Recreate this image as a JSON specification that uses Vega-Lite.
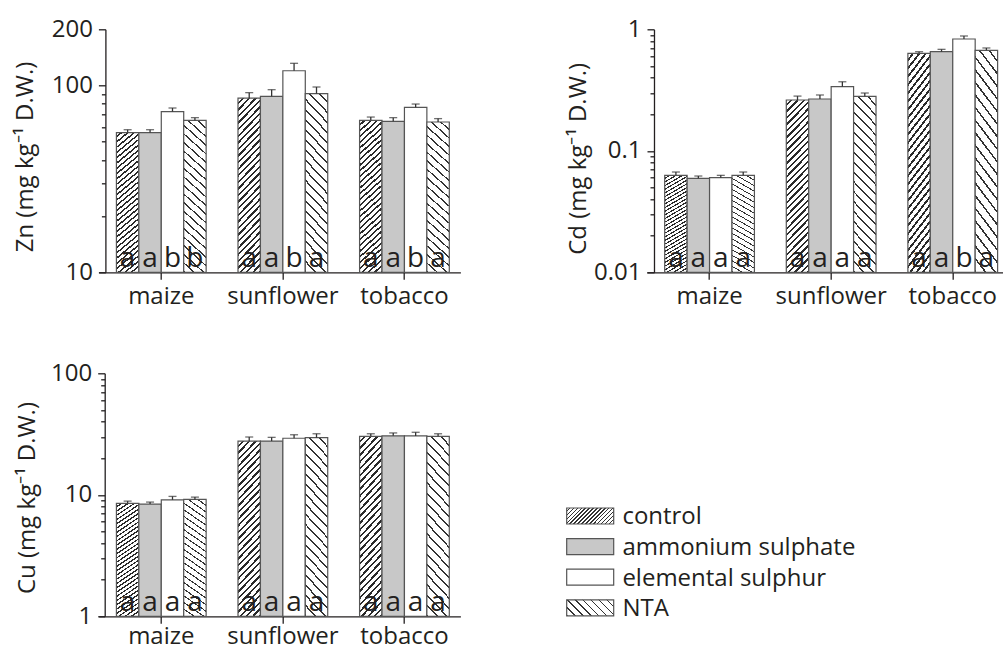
{
"$schema": "https://vega.github.io/schema/vega-lite/v6.json",
"padding": {"left": 12.7, "top": 17.3, "right": 0, "bottom": 2},
"background": "#ffffff",
"datasets": {
"main": [
{"metal":"Zn","crop":"maize","treatment":"control","value":56,"upper":58,"letter":"a"},
{"metal":"Zn","crop":"maize","treatment":"ammonium sulphate","value":56,"upper":58,"letter":"a"},
{"metal":"Zn","crop":"maize","treatment":"elemental sulphur","value":72.5,"upper":75.8,"letter":"b"},
{"metal":"Zn","crop":"maize","treatment":"NTA","value":65,"upper":67.3,"letter":"b"},
{"metal":"Zn","crop":"sunflower","treatment":"control","value":85.7,"upper":91.6,"letter":"a"},
{"metal":"Zn","crop":"sunflower","treatment":"ammonium sulphate","value":87.5,"upper":95,"letter":"a"},
{"metal":"Zn","crop":"sunflower","treatment":"elemental sulphur","value":120,"upper":131.5,"letter":"b"},
{"metal":"Zn","crop":"sunflower","treatment":"NTA","value":90.5,"upper":98.2,"letter":"a"},
{"metal":"Zn","crop":"tobacco","treatment":"control","value":65,"upper":67.8,"letter":"a"},
{"metal":"Zn","crop":"tobacco","treatment":"ammonium sulphate","value":64.3,"upper":67.3,"letter":"a"},
{"metal":"Zn","crop":"tobacco","treatment":"elemental sulphur","value":76.4,"upper":79.6,"letter":"b"},
{"metal":"Zn","crop":"tobacco","treatment":"NTA","value":63.8,"upper":66.5,"letter":"a"},
{"metal":"Cd","crop":"maize","treatment":"control","value":0.0628,"upper":0.0669,"letter":"a"},
{"metal":"Cd","crop":"maize","treatment":"ammonium sulphate","value":0.0594,"upper":0.062,"letter":"a"},
{"metal":"Cd","crop":"maize","treatment":"elemental sulphur","value":0.0601,"upper":0.0628,"letter":"a"},
{"metal":"Cd","crop":"maize","treatment":"NTA","value":0.0628,"upper":0.0669,"letter":"a"},
{"metal":"Cd","crop":"sunflower","treatment":"control","value":0.262,"upper":0.282,"letter":"a"},
{"metal":"Cd","crop":"sunflower","treatment":"ammonium sulphate","value":0.267,"upper":0.288,"letter":"a"},
{"metal":"Cd","crop":"sunflower","treatment":"elemental sulphur","value":0.337,"upper":0.37,"letter":"a"},
{"metal":"Cd","crop":"sunflower","treatment":"NTA","value":0.281,"upper":0.299,"letter":"a"},
{"metal":"Cd","crop":"tobacco","treatment":"control","value":0.634,"upper":0.654,"letter":"a"},
{"metal":"Cd","crop":"tobacco","treatment":"ammonium sulphate","value":0.654,"upper":0.684,"letter":"a"},
{"metal":"Cd","crop":"tobacco","treatment":"elemental sulphur","value":0.832,"upper":0.881,"letter":"b"},
{"metal":"Cd","crop":"tobacco","treatment":"NTA","value":0.672,"upper":0.702,"letter":"a"},
{"metal":"Cu","crop":"maize","treatment":"control","value":8.49,"upper":8.87,"letter":"a"},
{"metal":"Cu","crop":"maize","treatment":"ammonium sulphate","value":8.38,"upper":8.71,"letter":"a"},
{"metal":"Cu","crop":"maize","treatment":"elemental sulphur","value":9.09,"upper":9.7,"letter":"a"},
{"metal":"Cu","crop":"maize","treatment":"NTA","value":9.16,"upper":9.57,"letter":"a"},
{"metal":"Cu","crop":"sunflower","treatment":"control","value":27.7,"upper":29.9,"letter":"a"},
{"metal":"Cu","crop":"sunflower","treatment":"ammonium sulphate","value":27.7,"upper":29.7,"letter":"a"},
{"metal":"Cu","crop":"sunflower","treatment":"elemental sulphur","value":29.2,"upper":31.2,"letter":"a"},
{"metal":"Cu","crop":"sunflower","treatment":"NTA","value":29.5,"upper":31.8,"letter":"a"},
{"metal":"Cu","crop":"tobacco","treatment":"control","value":30.3,"upper":31.8,"letter":"a"},
{"metal":"Cu","crop":"tobacco","treatment":"ammonium sulphate","value":30.6,"upper":32.3,"letter":"a"},
{"metal":"Cu","crop":"tobacco","treatment":"elemental sulphur","value":30.5,"upper":32.7,"letter":"a"},
{"metal":"Cu","crop":"tobacco","treatment":"NTA","value":30.3,"upper":31.8,"letter":"a"}
],
"legend": [
{"treatment":"control"},
{"treatment":"ammonium sulphate"},
{"treatment":"elemental sulphur"},
{"treatment":"NTA"}
]
},
"columns": 2,
"spacing": {"row": 101, "column": 186},
"bounds": "flush",
"concat": [
{
"width": 361.7, "height": 243,
"data": {"name": "main"},
"transform": [{"filter": "datum.metal === 'Zn'"}],
"encoding": {
"x": {"field": "crop", "type": "nominal", "scale": {"domain": ["maize","sunflower","tobacco"], "paddingInner": 0.262, "paddingOuter": 0.1185, "align": 0.615}, "axis": {"title": null, "labelAngle": 0, "tickSize": 7, "labelPadding": 5}},
"xOffset": {"field": "treatment", "type": "nominal", "scale": {"domain": ["control","ammonium sulphate","elemental sulphur","NTA"], "paddingInner": 0, "paddingOuter": 0}},
"y": {"field": "value", "type": "quantitative", "scale": {"type": "log", "domain": [10, 200]}, "axis": {"title": "Zn (mg kg⁻¹ D.W.)", "values": [10,20,30,40,50,60,70,80,90,100,200], "labelExpr": "indexof([10,100,200], datum.value) >= 0 ? datum.value : ''", "tickSize": {"condition": {"test": "indexof([10,100,200], datum.value) >= 0", "value": 7}, "value": 4}, "offset": -6.7, "minExtent": 55, "maxExtent": 55, "titlePadding": 13.3, "titleY": 127.2, "labelOverlap": false, "labelPadding": 6}}
},
"layer": [
{"transform": [{"filter": "datum.treatment === 'control'"}], "mark": {"type": "bar", "stroke": "#555555", "strokeWidth": 1.2, "fill": {"gradient":"linear","x1":0,"y1":0,"x2":0.1485,"y2":1.1135,"stops":[
{"offset":0,"color":"#fff"},{"offset":0.0213,"color":"#fff"},{"offset":0.0213,"color":"#2a2a2a"},{"offset":0.0333,"color":"#2a2a2a"},
{"offset":0.0333,"color":"#fff"},{"offset":0.0546,"color":"#fff"},{"offset":0.0546,"color":"#2a2a2a"},{"offset":0.0667,"color":"#2a2a2a"},
{"offset":0.0667,"color":"#fff"},{"offset":0.088,"color":"#fff"},{"offset":0.088,"color":"#2a2a2a"},{"offset":0.1,"color":"#2a2a2a"},
{"offset":0.1,"color":"#fff"},{"offset":0.1213,"color":"#fff"},{"offset":0.1213,"color":"#2a2a2a"},{"offset":0.1333,"color":"#2a2a2a"},
{"offset":0.1333,"color":"#fff"},{"offset":0.1546,"color":"#fff"},{"offset":0.1546,"color":"#2a2a2a"},{"offset":0.1667,"color":"#2a2a2a"},
{"offset":0.1667,"color":"#fff"},{"offset":0.188,"color":"#fff"},{"offset":0.188,"color":"#2a2a2a"},{"offset":0.2,"color":"#2a2a2a"},
{"offset":0.2,"color":"#fff"},{"offset":0.2213,"color":"#fff"},{"offset":0.2213,"color":"#2a2a2a"},{"offset":0.2333,"color":"#2a2a2a"},
{"offset":0.2333,"color":"#fff"},{"offset":0.2546,"color":"#fff"},{"offset":0.2546,"color":"#2a2a2a"},{"offset":0.2667,"color":"#2a2a2a"},
{"offset":0.2667,"color":"#fff"},{"offset":0.288,"color":"#fff"},{"offset":0.288,"color":"#2a2a2a"},{"offset":0.3,"color":"#2a2a2a"},
{"offset":0.3,"color":"#fff"},{"offset":0.3213,"color":"#fff"},{"offset":0.3213,"color":"#2a2a2a"},{"offset":0.3333,"color":"#2a2a2a"},
{"offset":0.3333,"color":"#fff"},{"offset":0.3546,"color":"#fff"},{"offset":0.3546,"color":"#2a2a2a"},{"offset":0.3667,"color":"#2a2a2a"},
{"offset":0.3667,"color":"#fff"},{"offset":0.388,"color":"#fff"},{"offset":0.388,"color":"#2a2a2a"},{"offset":0.4,"color":"#2a2a2a"},
{"offset":0.4,"color":"#fff"},{"offset":0.4213,"color":"#fff"},{"offset":0.4213,"color":"#2a2a2a"},{"offset":0.4333,"color":"#2a2a2a"},
{"offset":0.4333,"color":"#fff"},{"offset":0.4546,"color":"#fff"},{"offset":0.4546,"color":"#2a2a2a"},{"offset":0.4667,"color":"#2a2a2a"},
{"offset":0.4667,"color":"#fff"},{"offset":0.488,"color":"#fff"},{"offset":0.488,"color":"#2a2a2a"},{"offset":0.5,"color":"#2a2a2a"},
{"offset":0.5,"color":"#fff"},{"offset":0.5213,"color":"#fff"},{"offset":0.5213,"color":"#2a2a2a"},{"offset":0.5333,"color":"#2a2a2a"},
{"offset":0.5333,"color":"#fff"},{"offset":0.5546,"color":"#fff"},{"offset":0.5546,"color":"#2a2a2a"},{"offset":0.5667,"color":"#2a2a2a"},
{"offset":0.5667,"color":"#fff"},{"offset":0.588,"color":"#fff"},{"offset":0.588,"color":"#2a2a2a"},{"offset":0.6,"color":"#2a2a2a"},
{"offset":0.6,"color":"#fff"},{"offset":0.6213,"color":"#fff"},{"offset":0.6213,"color":"#2a2a2a"},{"offset":0.6333,"color":"#2a2a2a"},
{"offset":0.6333,"color":"#fff"},{"offset":0.6546,"color":"#fff"},{"offset":0.6546,"color":"#2a2a2a"},{"offset":0.6667,"color":"#2a2a2a"},
{"offset":0.6667,"color":"#fff"},{"offset":0.688,"color":"#fff"},{"offset":0.688,"color":"#2a2a2a"},{"offset":0.7,"color":"#2a2a2a"},
{"offset":0.7,"color":"#fff"},{"offset":0.7213,"color":"#fff"},{"offset":0.7213,"color":"#2a2a2a"},{"offset":0.7333,"color":"#2a2a2a"},
{"offset":0.7333,"color":"#fff"},{"offset":0.7546,"color":"#fff"},{"offset":0.7546,"color":"#2a2a2a"},{"offset":0.7667,"color":"#2a2a2a"},
{"offset":0.7667,"color":"#fff"},{"offset":0.788,"color":"#fff"},{"offset":0.788,"color":"#2a2a2a"},{"offset":0.8,"color":"#2a2a2a"},
{"offset":0.8,"color":"#fff"},{"offset":0.8213,"color":"#fff"},{"offset":0.8213,"color":"#2a2a2a"},{"offset":0.8333,"color":"#2a2a2a"},
{"offset":0.8333,"color":"#fff"},{"offset":0.8546,"color":"#fff"},{"offset":0.8546,"color":"#2a2a2a"},{"offset":0.8667,"color":"#2a2a2a"},
{"offset":0.8667,"color":"#fff"},{"offset":0.888,"color":"#fff"},{"offset":0.888,"color":"#2a2a2a"},{"offset":0.9,"color":"#2a2a2a"},
{"offset":0.9,"color":"#fff"},{"offset":0.9213,"color":"#fff"},{"offset":0.9213,"color":"#2a2a2a"},{"offset":0.9333,"color":"#2a2a2a"},
{"offset":0.9333,"color":"#fff"},{"offset":0.9546,"color":"#fff"},{"offset":0.9546,"color":"#2a2a2a"},{"offset":0.9667,"color":"#2a2a2a"},
{"offset":0.9667,"color":"#fff"},{"offset":0.988,"color":"#fff"},{"offset":0.988,"color":"#2a2a2a"},{"offset":1,"color":"#2a2a2a"}
]}}, "encoding": {"y2": {"datum": 10}}},
{"transform": [{"filter": "datum.treatment === 'ammonium sulphate'"}], "mark": {"type": "bar", "fill": "#c8c8c8", "stroke": "#555555", "strokeWidth": 1.2}, "encoding": {"y2": {"datum": 10}}},
{"transform": [{"filter": "datum.treatment === 'elemental sulphur'"}], "mark": {"type": "bar", "fill": "#ffffff", "stroke": "#555555", "strokeWidth": 1.2}, "encoding": {"y2": {"datum": 10}}},
{"transform": [{"filter": "datum.treatment === 'NTA'"}], "mark": {"type": "bar", "stroke": "#555555", "strokeWidth": 1.2, "fill": {"gradient":"linear","x1":1,"y1":0,"x2":0.8515,"y2":1.1135,"stops":[
{"offset":0,"color":"#fff"},{"offset":0.04,"color":"#fff"},{"offset":0.04,"color":"#333"},{"offset":0.05,"color":"#333"},
{"offset":0.05,"color":"#fff"},{"offset":0.09,"color":"#fff"},{"offset":0.09,"color":"#333"},{"offset":0.1,"color":"#333"},
{"offset":0.1,"color":"#fff"},{"offset":0.14,"color":"#fff"},{"offset":0.14,"color":"#333"},{"offset":0.15,"color":"#333"},
{"offset":0.15,"color":"#fff"},{"offset":0.19,"color":"#fff"},{"offset":0.19,"color":"#333"},{"offset":0.2,"color":"#333"},
{"offset":0.2,"color":"#fff"},{"offset":0.24,"color":"#fff"},{"offset":0.24,"color":"#333"},{"offset":0.25,"color":"#333"},
{"offset":0.25,"color":"#fff"},{"offset":0.29,"color":"#fff"},{"offset":0.29,"color":"#333"},{"offset":0.3,"color":"#333"},
{"offset":0.3,"color":"#fff"},{"offset":0.34,"color":"#fff"},{"offset":0.34,"color":"#333"},{"offset":0.35,"color":"#333"},
{"offset":0.35,"color":"#fff"},{"offset":0.39,"color":"#fff"},{"offset":0.39,"color":"#333"},{"offset":0.4,"color":"#333"},
{"offset":0.4,"color":"#fff"},{"offset":0.44,"color":"#fff"},{"offset":0.44,"color":"#333"},{"offset":0.45,"color":"#333"},
{"offset":0.45,"color":"#fff"},{"offset":0.49,"color":"#fff"},{"offset":0.49,"color":"#333"},{"offset":0.5,"color":"#333"},
{"offset":0.5,"color":"#fff"},{"offset":0.54,"color":"#fff"},{"offset":0.54,"color":"#333"},{"offset":0.55,"color":"#333"},
{"offset":0.55,"color":"#fff"},{"offset":0.59,"color":"#fff"},{"offset":0.59,"color":"#333"},{"offset":0.6,"color":"#333"},
{"offset":0.6,"color":"#fff"},{"offset":0.64,"color":"#fff"},{"offset":0.64,"color":"#333"},{"offset":0.65,"color":"#333"},
{"offset":0.65,"color":"#fff"},{"offset":0.69,"color":"#fff"},{"offset":0.69,"color":"#333"},{"offset":0.7,"color":"#333"},
{"offset":0.7,"color":"#fff"},{"offset":0.74,"color":"#fff"},{"offset":0.74,"color":"#333"},{"offset":0.75,"color":"#333"},
{"offset":0.75,"color":"#fff"},{"offset":0.79,"color":"#fff"},{"offset":0.79,"color":"#333"},{"offset":0.8,"color":"#333"},
{"offset":0.8,"color":"#fff"},{"offset":0.84,"color":"#fff"},{"offset":0.84,"color":"#333"},{"offset":0.85,"color":"#333"},
{"offset":0.85,"color":"#fff"},{"offset":0.89,"color":"#fff"},{"offset":0.89,"color":"#333"},{"offset":0.9,"color":"#333"},
{"offset":0.9,"color":"#fff"},{"offset":0.94,"color":"#fff"},{"offset":0.94,"color":"#333"},{"offset":0.95,"color":"#333"},
{"offset":0.95,"color":"#fff"},{"offset":0.99,"color":"#fff"},{"offset":0.99,"color":"#333"},{"offset":1,"color":"#333"}
]}}, "encoding": {"y2": {"datum": 10}}},
{"mark": {"type": "rule", "color": "#333333", "strokeWidth": 1.3}, "encoding": {"y2": {"field": "upper"}}},
{"mark": {"type": "tick", "orient": "horizontal", "size": 8, "thickness": 1.3, "color": "#333333"}, "encoding": {"y": {"field": "upper", "type": "quantitative"}}},
{"mark": {"type": "text", "font": "Open Sans", "fontSize": 28, "baseline": "alphabetic", "dy": -5.6, "color": "#231f20"}, "encoding": {"y": {"datum": 10}, "text": {"field": "letter"}}}
]
},
{
"width": 357, "height": 243,
"data": {"name": "main"},
"transform": [{"filter": "datum.metal === 'Cd'"}],
"encoding": {
"x": {"field": "crop", "type": "nominal", "scale": {"domain": ["maize","sunflower","tobacco"], "paddingInner": 0.262, "paddingOuter": 0.099, "align": 0.748}, "axis": {"title": null, "labelAngle": 0, "tickSize": 7, "labelPadding": 5}},
"xOffset": {"field": "treatment", "type": "nominal", "scale": {"domain": ["control","ammonium sulphate","elemental sulphur","NTA"], "paddingInner": 0, "paddingOuter": 0}},
"y": {"field": "value", "type": "quantitative", "scale": {"type": "log", "domain": [0.01, 1]}, "axis": {"title": "Cd (mg kg⁻¹ D.W.)", "values": [0.01,0.02,0.03,0.04,0.05,0.06,0.07,0.08,0.09,0.1,0.2,0.3,0.4,0.5,0.6,0.7,0.8,0.9,1], "labelExpr": "indexof([0.01,0.1,1], datum.value) >= 0 ? datum.value : ''", "tickSize": {"condition": {"test": "indexof([0.01,0.1,1], datum.value) >= 0", "value": 7}, "value": 4}, "offset": -7.3, "minExtent": 55, "maxExtent": 55, "titlePadding": 8, "titleY": 129, "labelOverlap": false, "labelPadding": 6}}
},
"layer": [
{"transform": [{"filter": "datum.treatment === 'control'"}], "mark": {"type": "bar", "stroke": "#555555", "strokeWidth": 1.2, "fill": {"gradient":"linear","x1":0,"y1":0,"x2":0.1485,"y2":1.1135,"stops":[
{"offset":0,"color":"#fff"},{"offset":0.0213,"color":"#fff"},{"offset":0.0213,"color":"#2a2a2a"},{"offset":0.0333,"color":"#2a2a2a"},
{"offset":0.0333,"color":"#fff"},{"offset":0.0546,"color":"#fff"},{"offset":0.0546,"color":"#2a2a2a"},{"offset":0.0667,"color":"#2a2a2a"},
{"offset":0.0667,"color":"#fff"},{"offset":0.088,"color":"#fff"},{"offset":0.088,"color":"#2a2a2a"},{"offset":0.1,"color":"#2a2a2a"},
{"offset":0.1,"color":"#fff"},{"offset":0.1213,"color":"#fff"},{"offset":0.1213,"color":"#2a2a2a"},{"offset":0.1333,"color":"#2a2a2a"},
{"offset":0.1333,"color":"#fff"},{"offset":0.1546,"color":"#fff"},{"offset":0.1546,"color":"#2a2a2a"},{"offset":0.1667,"color":"#2a2a2a"},
{"offset":0.1667,"color":"#fff"},{"offset":0.188,"color":"#fff"},{"offset":0.188,"color":"#2a2a2a"},{"offset":0.2,"color":"#2a2a2a"},
{"offset":0.2,"color":"#fff"},{"offset":0.2213,"color":"#fff"},{"offset":0.2213,"color":"#2a2a2a"},{"offset":0.2333,"color":"#2a2a2a"},
{"offset":0.2333,"color":"#fff"},{"offset":0.2546,"color":"#fff"},{"offset":0.2546,"color":"#2a2a2a"},{"offset":0.2667,"color":"#2a2a2a"},
{"offset":0.2667,"color":"#fff"},{"offset":0.288,"color":"#fff"},{"offset":0.288,"color":"#2a2a2a"},{"offset":0.3,"color":"#2a2a2a"},
{"offset":0.3,"color":"#fff"},{"offset":0.3213,"color":"#fff"},{"offset":0.3213,"color":"#2a2a2a"},{"offset":0.3333,"color":"#2a2a2a"},
{"offset":0.3333,"color":"#fff"},{"offset":0.3546,"color":"#fff"},{"offset":0.3546,"color":"#2a2a2a"},{"offset":0.3667,"color":"#2a2a2a"},
{"offset":0.3667,"color":"#fff"},{"offset":0.388,"color":"#fff"},{"offset":0.388,"color":"#2a2a2a"},{"offset":0.4,"color":"#2a2a2a"},
{"offset":0.4,"color":"#fff"},{"offset":0.4213,"color":"#fff"},{"offset":0.4213,"color":"#2a2a2a"},{"offset":0.4333,"color":"#2a2a2a"},
{"offset":0.4333,"color":"#fff"},{"offset":0.4546,"color":"#fff"},{"offset":0.4546,"color":"#2a2a2a"},{"offset":0.4667,"color":"#2a2a2a"},
{"offset":0.4667,"color":"#fff"},{"offset":0.488,"color":"#fff"},{"offset":0.488,"color":"#2a2a2a"},{"offset":0.5,"color":"#2a2a2a"},
{"offset":0.5,"color":"#fff"},{"offset":0.5213,"color":"#fff"},{"offset":0.5213,"color":"#2a2a2a"},{"offset":0.5333,"color":"#2a2a2a"},
{"offset":0.5333,"color":"#fff"},{"offset":0.5546,"color":"#fff"},{"offset":0.5546,"color":"#2a2a2a"},{"offset":0.5667,"color":"#2a2a2a"},
{"offset":0.5667,"color":"#fff"},{"offset":0.588,"color":"#fff"},{"offset":0.588,"color":"#2a2a2a"},{"offset":0.6,"color":"#2a2a2a"},
{"offset":0.6,"color":"#fff"},{"offset":0.6213,"color":"#fff"},{"offset":0.6213,"color":"#2a2a2a"},{"offset":0.6333,"color":"#2a2a2a"},
{"offset":0.6333,"color":"#fff"},{"offset":0.6546,"color":"#fff"},{"offset":0.6546,"color":"#2a2a2a"},{"offset":0.6667,"color":"#2a2a2a"},
{"offset":0.6667,"color":"#fff"},{"offset":0.688,"color":"#fff"},{"offset":0.688,"color":"#2a2a2a"},{"offset":0.7,"color":"#2a2a2a"},
{"offset":0.7,"color":"#fff"},{"offset":0.7213,"color":"#fff"},{"offset":0.7213,"color":"#2a2a2a"},{"offset":0.7333,"color":"#2a2a2a"},
{"offset":0.7333,"color":"#fff"},{"offset":0.7546,"color":"#fff"},{"offset":0.7546,"color":"#2a2a2a"},{"offset":0.7667,"color":"#2a2a2a"},
{"offset":0.7667,"color":"#fff"},{"offset":0.788,"color":"#fff"},{"offset":0.788,"color":"#2a2a2a"},{"offset":0.8,"color":"#2a2a2a"},
{"offset":0.8,"color":"#fff"},{"offset":0.8213,"color":"#fff"},{"offset":0.8213,"color":"#2a2a2a"},{"offset":0.8333,"color":"#2a2a2a"},
{"offset":0.8333,"color":"#fff"},{"offset":0.8546,"color":"#fff"},{"offset":0.8546,"color":"#2a2a2a"},{"offset":0.8667,"color":"#2a2a2a"},
{"offset":0.8667,"color":"#fff"},{"offset":0.888,"color":"#fff"},{"offset":0.888,"color":"#2a2a2a"},{"offset":0.9,"color":"#2a2a2a"},
{"offset":0.9,"color":"#fff"},{"offset":0.9213,"color":"#fff"},{"offset":0.9213,"color":"#2a2a2a"},{"offset":0.9333,"color":"#2a2a2a"},
{"offset":0.9333,"color":"#fff"},{"offset":0.9546,"color":"#fff"},{"offset":0.9546,"color":"#2a2a2a"},{"offset":0.9667,"color":"#2a2a2a"},
{"offset":0.9667,"color":"#fff"},{"offset":0.988,"color":"#fff"},{"offset":0.988,"color":"#2a2a2a"},{"offset":1,"color":"#2a2a2a"}
]}}, "encoding": {"y2": {"datum": 0.01}}},
{"transform": [{"filter": "datum.treatment === 'ammonium sulphate'"}], "mark": {"type": "bar", "fill": "#c8c8c8", "stroke": "#555555", "strokeWidth": 1.2}, "encoding": {"y2": {"datum": 0.01}}},
{"transform": [{"filter": "datum.treatment === 'elemental sulphur'"}], "mark": {"type": "bar", "fill": "#ffffff", "stroke": "#555555", "strokeWidth": 1.2}, "encoding": {"y2": {"datum": 0.01}}},
{"transform": [{"filter": "datum.treatment === 'NTA'"}], "mark": {"type": "bar", "stroke": "#555555", "strokeWidth": 1.2, "fill": {"gradient":"linear","x1":1,"y1":0,"x2":0.8515,"y2":1.1135,"stops":[
{"offset":0,"color":"#fff"},{"offset":0.04,"color":"#fff"},{"offset":0.04,"color":"#333"},{"offset":0.05,"color":"#333"},
{"offset":0.05,"color":"#fff"},{"offset":0.09,"color":"#fff"},{"offset":0.09,"color":"#333"},{"offset":0.1,"color":"#333"},
{"offset":0.1,"color":"#fff"},{"offset":0.14,"color":"#fff"},{"offset":0.14,"color":"#333"},{"offset":0.15,"color":"#333"},
{"offset":0.15,"color":"#fff"},{"offset":0.19,"color":"#fff"},{"offset":0.19,"color":"#333"},{"offset":0.2,"color":"#333"},
{"offset":0.2,"color":"#fff"},{"offset":0.24,"color":"#fff"},{"offset":0.24,"color":"#333"},{"offset":0.25,"color":"#333"},
{"offset":0.25,"color":"#fff"},{"offset":0.29,"color":"#fff"},{"offset":0.29,"color":"#333"},{"offset":0.3,"color":"#333"},
{"offset":0.3,"color":"#fff"},{"offset":0.34,"color":"#fff"},{"offset":0.34,"color":"#333"},{"offset":0.35,"color":"#333"},
{"offset":0.35,"color":"#fff"},{"offset":0.39,"color":"#fff"},{"offset":0.39,"color":"#333"},{"offset":0.4,"color":"#333"},
{"offset":0.4,"color":"#fff"},{"offset":0.44,"color":"#fff"},{"offset":0.44,"color":"#333"},{"offset":0.45,"color":"#333"},
{"offset":0.45,"color":"#fff"},{"offset":0.49,"color":"#fff"},{"offset":0.49,"color":"#333"},{"offset":0.5,"color":"#333"},
{"offset":0.5,"color":"#fff"},{"offset":0.54,"color":"#fff"},{"offset":0.54,"color":"#333"},{"offset":0.55,"color":"#333"},
{"offset":0.55,"color":"#fff"},{"offset":0.59,"color":"#fff"},{"offset":0.59,"color":"#333"},{"offset":0.6,"color":"#333"},
{"offset":0.6,"color":"#fff"},{"offset":0.64,"color":"#fff"},{"offset":0.64,"color":"#333"},{"offset":0.65,"color":"#333"},
{"offset":0.65,"color":"#fff"},{"offset":0.69,"color":"#fff"},{"offset":0.69,"color":"#333"},{"offset":0.7,"color":"#333"},
{"offset":0.7,"color":"#fff"},{"offset":0.74,"color":"#fff"},{"offset":0.74,"color":"#333"},{"offset":0.75,"color":"#333"},
{"offset":0.75,"color":"#fff"},{"offset":0.79,"color":"#fff"},{"offset":0.79,"color":"#333"},{"offset":0.8,"color":"#333"},
{"offset":0.8,"color":"#fff"},{"offset":0.84,"color":"#fff"},{"offset":0.84,"color":"#333"},{"offset":0.85,"color":"#333"},
{"offset":0.85,"color":"#fff"},{"offset":0.89,"color":"#fff"},{"offset":0.89,"color":"#333"},{"offset":0.9,"color":"#333"},
{"offset":0.9,"color":"#fff"},{"offset":0.94,"color":"#fff"},{"offset":0.94,"color":"#333"},{"offset":0.95,"color":"#333"},
{"offset":0.95,"color":"#fff"},{"offset":0.99,"color":"#fff"},{"offset":0.99,"color":"#333"},{"offset":1,"color":"#333"}
]}}, "encoding": {"y2": {"datum": 0.01}}},
{"mark": {"type": "rule", "color": "#333333", "strokeWidth": 1.3}, "encoding": {"y2": {"field": "upper"}}},
{"mark": {"type": "tick", "orient": "horizontal", "size": 8, "thickness": 1.3, "color": "#333333"}, "encoding": {"y": {"field": "upper", "type": "quantitative"}}},
{"mark": {"type": "text", "font": "Open Sans", "fontSize": 28, "baseline": "alphabetic", "dy": -5.6, "color": "#231f20"}, "encoding": {"y": {"datum": 0.01}, "text": {"field": "letter"}}}
]
},
{
"width": 361.7, "height": 243,
"data": {"name": "main"},
"transform": [{"filter": "datum.metal === 'Cu'"}],
"encoding": {
"x": {"field": "crop", "type": "nominal", "scale": {"domain": ["maize","sunflower","tobacco"], "paddingInner": 0.262, "paddingOuter": 0.1185, "align": 0.615}, "axis": {"title": null, "labelAngle": 0, "tickSize": 7, "labelPadding": 1}},
"xOffset": {"field": "treatment", "type": "nominal", "scale": {"domain": ["control","ammonium sulphate","elemental sulphur","NTA"], "paddingInner": 0, "paddingOuter": 0}},
"y": {"field": "value", "type": "quantitative", "scale": {"type": "log", "domain": [1, 100]}, "axis": {"title": "Cu (mg kg⁻¹ D.W.)", "values": [1,2,3,4,5,6,7,8,9,10,20,30,40,50,60,70,80,90,100], "labelExpr": "indexof([1,10,100], datum.value) >= 0 ? datum.value : ''", "tickSize": {"condition": {"test": "indexof([1,10,100], datum.value) >= 0", "value": 7}, "value": 4}, "offset": -6, "minExtent": 55, "maxExtent": 55, "titlePadding": 10.6, "titleY": 124.2, "labelOverlap": false, "labelPadding": 6}}
},
"layer": [
{"transform": [{"filter": "datum.treatment === 'control'"}], "mark": {"type": "bar", "stroke": "#555555", "strokeWidth": 1.2, "fill": {"gradient":"linear","x1":0,"y1":0,"x2":0.1485,"y2":1.1135,"stops":[
{"offset":0,"color":"#fff"},{"offset":0.0213,"color":"#fff"},{"offset":0.0213,"color":"#2a2a2a"},{"offset":0.0333,"color":"#2a2a2a"},
{"offset":0.0333,"color":"#fff"},{"offset":0.0546,"color":"#fff"},{"offset":0.0546,"color":"#2a2a2a"},{"offset":0.0667,"color":"#2a2a2a"},
{"offset":0.0667,"color":"#fff"},{"offset":0.088,"color":"#fff"},{"offset":0.088,"color":"#2a2a2a"},{"offset":0.1,"color":"#2a2a2a"},
{"offset":0.1,"color":"#fff"},{"offset":0.1213,"color":"#fff"},{"offset":0.1213,"color":"#2a2a2a"},{"offset":0.1333,"color":"#2a2a2a"},
{"offset":0.1333,"color":"#fff"},{"offset":0.1546,"color":"#fff"},{"offset":0.1546,"color":"#2a2a2a"},{"offset":0.1667,"color":"#2a2a2a"},
{"offset":0.1667,"color":"#fff"},{"offset":0.188,"color":"#fff"},{"offset":0.188,"color":"#2a2a2a"},{"offset":0.2,"color":"#2a2a2a"},
{"offset":0.2,"color":"#fff"},{"offset":0.2213,"color":"#fff"},{"offset":0.2213,"color":"#2a2a2a"},{"offset":0.2333,"color":"#2a2a2a"},
{"offset":0.2333,"color":"#fff"},{"offset":0.2546,"color":"#fff"},{"offset":0.2546,"color":"#2a2a2a"},{"offset":0.2667,"color":"#2a2a2a"},
{"offset":0.2667,"color":"#fff"},{"offset":0.288,"color":"#fff"},{"offset":0.288,"color":"#2a2a2a"},{"offset":0.3,"color":"#2a2a2a"},
{"offset":0.3,"color":"#fff"},{"offset":0.3213,"color":"#fff"},{"offset":0.3213,"color":"#2a2a2a"},{"offset":0.3333,"color":"#2a2a2a"},
{"offset":0.3333,"color":"#fff"},{"offset":0.3546,"color":"#fff"},{"offset":0.3546,"color":"#2a2a2a"},{"offset":0.3667,"color":"#2a2a2a"},
{"offset":0.3667,"color":"#fff"},{"offset":0.388,"color":"#fff"},{"offset":0.388,"color":"#2a2a2a"},{"offset":0.4,"color":"#2a2a2a"},
{"offset":0.4,"color":"#fff"},{"offset":0.4213,"color":"#fff"},{"offset":0.4213,"color":"#2a2a2a"},{"offset":0.4333,"color":"#2a2a2a"},
{"offset":0.4333,"color":"#fff"},{"offset":0.4546,"color":"#fff"},{"offset":0.4546,"color":"#2a2a2a"},{"offset":0.4667,"color":"#2a2a2a"},
{"offset":0.4667,"color":"#fff"},{"offset":0.488,"color":"#fff"},{"offset":0.488,"color":"#2a2a2a"},{"offset":0.5,"color":"#2a2a2a"},
{"offset":0.5,"color":"#fff"},{"offset":0.5213,"color":"#fff"},{"offset":0.5213,"color":"#2a2a2a"},{"offset":0.5333,"color":"#2a2a2a"},
{"offset":0.5333,"color":"#fff"},{"offset":0.5546,"color":"#fff"},{"offset":0.5546,"color":"#2a2a2a"},{"offset":0.5667,"color":"#2a2a2a"},
{"offset":0.5667,"color":"#fff"},{"offset":0.588,"color":"#fff"},{"offset":0.588,"color":"#2a2a2a"},{"offset":0.6,"color":"#2a2a2a"},
{"offset":0.6,"color":"#fff"},{"offset":0.6213,"color":"#fff"},{"offset":0.6213,"color":"#2a2a2a"},{"offset":0.6333,"color":"#2a2a2a"},
{"offset":0.6333,"color":"#fff"},{"offset":0.6546,"color":"#fff"},{"offset":0.6546,"color":"#2a2a2a"},{"offset":0.6667,"color":"#2a2a2a"},
{"offset":0.6667,"color":"#fff"},{"offset":0.688,"color":"#fff"},{"offset":0.688,"color":"#2a2a2a"},{"offset":0.7,"color":"#2a2a2a"},
{"offset":0.7,"color":"#fff"},{"offset":0.7213,"color":"#fff"},{"offset":0.7213,"color":"#2a2a2a"},{"offset":0.7333,"color":"#2a2a2a"},
{"offset":0.7333,"color":"#fff"},{"offset":0.7546,"color":"#fff"},{"offset":0.7546,"color":"#2a2a2a"},{"offset":0.7667,"color":"#2a2a2a"},
{"offset":0.7667,"color":"#fff"},{"offset":0.788,"color":"#fff"},{"offset":0.788,"color":"#2a2a2a"},{"offset":0.8,"color":"#2a2a2a"},
{"offset":0.8,"color":"#fff"},{"offset":0.8213,"color":"#fff"},{"offset":0.8213,"color":"#2a2a2a"},{"offset":0.8333,"color":"#2a2a2a"},
{"offset":0.8333,"color":"#fff"},{"offset":0.8546,"color":"#fff"},{"offset":0.8546,"color":"#2a2a2a"},{"offset":0.8667,"color":"#2a2a2a"},
{"offset":0.8667,"color":"#fff"},{"offset":0.888,"color":"#fff"},{"offset":0.888,"color":"#2a2a2a"},{"offset":0.9,"color":"#2a2a2a"},
{"offset":0.9,"color":"#fff"},{"offset":0.9213,"color":"#fff"},{"offset":0.9213,"color":"#2a2a2a"},{"offset":0.9333,"color":"#2a2a2a"},
{"offset":0.9333,"color":"#fff"},{"offset":0.9546,"color":"#fff"},{"offset":0.9546,"color":"#2a2a2a"},{"offset":0.9667,"color":"#2a2a2a"},
{"offset":0.9667,"color":"#fff"},{"offset":0.988,"color":"#fff"},{"offset":0.988,"color":"#2a2a2a"},{"offset":1,"color":"#2a2a2a"}
]}}, "encoding": {"y2": {"datum": 1}}},
{"transform": [{"filter": "datum.treatment === 'ammonium sulphate'"}], "mark": {"type": "bar", "fill": "#c8c8c8", "stroke": "#555555", "strokeWidth": 1.2}, "encoding": {"y2": {"datum": 1}}},
{"transform": [{"filter": "datum.treatment === 'elemental sulphur'"}], "mark": {"type": "bar", "fill": "#ffffff", "stroke": "#555555", "strokeWidth": 1.2}, "encoding": {"y2": {"datum": 1}}},
{"transform": [{"filter": "datum.treatment === 'NTA'"}], "mark": {"type": "bar", "stroke": "#555555", "strokeWidth": 1.2, "fill": {"gradient":"linear","x1":1,"y1":0,"x2":0.8515,"y2":1.1135,"stops":[
{"offset":0,"color":"#fff"},{"offset":0.04,"color":"#fff"},{"offset":0.04,"color":"#333"},{"offset":0.05,"color":"#333"},
{"offset":0.05,"color":"#fff"},{"offset":0.09,"color":"#fff"},{"offset":0.09,"color":"#333"},{"offset":0.1,"color":"#333"},
{"offset":0.1,"color":"#fff"},{"offset":0.14,"color":"#fff"},{"offset":0.14,"color":"#333"},{"offset":0.15,"color":"#333"},
{"offset":0.15,"color":"#fff"},{"offset":0.19,"color":"#fff"},{"offset":0.19,"color":"#333"},{"offset":0.2,"color":"#333"},
{"offset":0.2,"color":"#fff"},{"offset":0.24,"color":"#fff"},{"offset":0.24,"color":"#333"},{"offset":0.25,"color":"#333"},
{"offset":0.25,"color":"#fff"},{"offset":0.29,"color":"#fff"},{"offset":0.29,"color":"#333"},{"offset":0.3,"color":"#333"},
{"offset":0.3,"color":"#fff"},{"offset":0.34,"color":"#fff"},{"offset":0.34,"color":"#333"},{"offset":0.35,"color":"#333"},
{"offset":0.35,"color":"#fff"},{"offset":0.39,"color":"#fff"},{"offset":0.39,"color":"#333"},{"offset":0.4,"color":"#333"},
{"offset":0.4,"color":"#fff"},{"offset":0.44,"color":"#fff"},{"offset":0.44,"color":"#333"},{"offset":0.45,"color":"#333"},
{"offset":0.45,"color":"#fff"},{"offset":0.49,"color":"#fff"},{"offset":0.49,"color":"#333"},{"offset":0.5,"color":"#333"},
{"offset":0.5,"color":"#fff"},{"offset":0.54,"color":"#fff"},{"offset":0.54,"color":"#333"},{"offset":0.55,"color":"#333"},
{"offset":0.55,"color":"#fff"},{"offset":0.59,"color":"#fff"},{"offset":0.59,"color":"#333"},{"offset":0.6,"color":"#333"},
{"offset":0.6,"color":"#fff"},{"offset":0.64,"color":"#fff"},{"offset":0.64,"color":"#333"},{"offset":0.65,"color":"#333"},
{"offset":0.65,"color":"#fff"},{"offset":0.69,"color":"#fff"},{"offset":0.69,"color":"#333"},{"offset":0.7,"color":"#333"},
{"offset":0.7,"color":"#fff"},{"offset":0.74,"color":"#fff"},{"offset":0.74,"color":"#333"},{"offset":0.75,"color":"#333"},
{"offset":0.75,"color":"#fff"},{"offset":0.79,"color":"#fff"},{"offset":0.79,"color":"#333"},{"offset":0.8,"color":"#333"},
{"offset":0.8,"color":"#fff"},{"offset":0.84,"color":"#fff"},{"offset":0.84,"color":"#333"},{"offset":0.85,"color":"#333"},
{"offset":0.85,"color":"#fff"},{"offset":0.89,"color":"#fff"},{"offset":0.89,"color":"#333"},{"offset":0.9,"color":"#333"},
{"offset":0.9,"color":"#fff"},{"offset":0.94,"color":"#fff"},{"offset":0.94,"color":"#333"},{"offset":0.95,"color":"#333"},
{"offset":0.95,"color":"#fff"},{"offset":0.99,"color":"#fff"},{"offset":0.99,"color":"#333"},{"offset":1,"color":"#333"}
]}}, "encoding": {"y2": {"datum": 1}}},
{"mark": {"type": "rule", "color": "#333333", "strokeWidth": 1.3}, "encoding": {"y2": {"field": "upper"}}},
{"mark": {"type": "tick", "orient": "horizontal", "size": 8, "thickness": 1.3, "color": "#333333"}, "encoding": {"y": {"field": "upper", "type": "quantitative"}}},
{"mark": {"type": "text", "font": "Open Sans", "fontSize": 28, "baseline": "alphabetic", "dy": -5.6, "color": "#231f20"}, "encoding": {"y": {"datum": 1}, "text": {"field": "letter"}}}
]
},
{
"width": 357, "height": 243,
"data": {"name": "legend"},
"encoding": {
"y": {"field": "treatment", "type": "nominal", "scale": {"domain": ["control","ammonium sulphate","elemental sulphur","NTA"], "range": [134.7, 242.5], "paddingInner": 0.477, "paddingOuter": 0}, "axis": null},
"x": {"datum": 0, "type": "quantitative", "scale": {"domain": [0, 1], "range": [-80, -33]}, "axis": null}
},
"layer": [
{"transform": [{"filter": "datum.treatment === 'control'"}], "mark": {"type": "bar", "stroke": "#555555", "strokeWidth": 1.2, "fill": {"gradient":"linear","x1":0,"y1":0,"x2":1.201,"y2":0.4085,"stops":[
{"offset":0,"color":"#fff"},{"offset":0.04,"color":"#fff"},{"offset":0.04,"color":"#333"},{"offset":0.0625,"color":"#333"},
{"offset":0.0625,"color":"#fff"},{"offset":0.1025,"color":"#fff"},{"offset":0.1025,"color":"#333"},{"offset":0.125,"color":"#333"},
{"offset":0.125,"color":"#fff"},{"offset":0.165,"color":"#fff"},{"offset":0.165,"color":"#333"},{"offset":0.1875,"color":"#333"},
{"offset":0.1875,"color":"#fff"},{"offset":0.2275,"color":"#fff"},{"offset":0.2275,"color":"#333"},{"offset":0.25,"color":"#333"},
{"offset":0.25,"color":"#fff"},{"offset":0.29,"color":"#fff"},{"offset":0.29,"color":"#333"},{"offset":0.3125,"color":"#333"},
{"offset":0.3125,"color":"#fff"},{"offset":0.3525,"color":"#fff"},{"offset":0.3525,"color":"#333"},{"offset":0.375,"color":"#333"},
{"offset":0.375,"color":"#fff"},{"offset":0.415,"color":"#fff"},{"offset":0.415,"color":"#333"},{"offset":0.4375,"color":"#333"},
{"offset":0.4375,"color":"#fff"},{"offset":0.4775,"color":"#fff"},{"offset":0.4775,"color":"#333"},{"offset":0.5,"color":"#333"},
{"offset":0.5,"color":"#fff"},{"offset":0.54,"color":"#fff"},{"offset":0.54,"color":"#333"},{"offset":0.5625,"color":"#333"},
{"offset":0.5625,"color":"#fff"},{"offset":0.6025,"color":"#fff"},{"offset":0.6025,"color":"#333"},{"offset":0.625,"color":"#333"},
{"offset":0.625,"color":"#fff"},{"offset":0.665,"color":"#fff"},{"offset":0.665,"color":"#333"},{"offset":0.6875,"color":"#333"},
{"offset":0.6875,"color":"#fff"},{"offset":0.7275,"color":"#fff"},{"offset":0.7275,"color":"#333"},{"offset":0.75,"color":"#333"},
{"offset":0.75,"color":"#fff"},{"offset":0.79,"color":"#fff"},{"offset":0.79,"color":"#333"},{"offset":0.8125,"color":"#333"},
{"offset":0.8125,"color":"#fff"},{"offset":0.8525,"color":"#fff"},{"offset":0.8525,"color":"#333"},{"offset":0.875,"color":"#333"},
{"offset":0.875,"color":"#fff"},{"offset":0.915,"color":"#fff"},{"offset":0.915,"color":"#333"},{"offset":0.9375,"color":"#333"},
{"offset":0.9375,"color":"#fff"},{"offset":0.9775,"color":"#fff"},{"offset":0.9775,"color":"#333"},{"offset":1,"color":"#333"}
]}}, "encoding": {"x2": {"datum": 1}}},
{"transform": [{"filter": "datum.treatment === 'ammonium sulphate'"}], "mark": {"type": "bar", "fill": "#c8c8c8", "stroke": "#555555", "strokeWidth": 1.2}, "encoding": {"x2": {"datum": 1}}},
{"transform": [{"filter": "datum.treatment === 'elemental sulphur'"}], "mark": {"type": "bar", "fill": "#ffffff", "stroke": "#555555", "strokeWidth": 1.2}, "encoding": {"x2": {"datum": 1}}},
{"transform": [{"filter": "datum.treatment === 'NTA'"}], "mark": {"type": "bar", "stroke": "#555555", "strokeWidth": 1.2, "fill": {"gradient":"linear","x1":1,"y1":0,"x2":-0.201,"y2":0.4085,"stops":[
{"offset":0,"color":"#fff"},{"offset":0.1,"color":"#fff"},{"offset":0.1,"color":"#333"},{"offset":0.125,"color":"#333"},
{"offset":0.125,"color":"#fff"},{"offset":0.225,"color":"#fff"},{"offset":0.225,"color":"#333"},{"offset":0.25,"color":"#333"},
{"offset":0.25,"color":"#fff"},{"offset":0.35,"color":"#fff"},{"offset":0.35,"color":"#333"},{"offset":0.375,"color":"#333"},
{"offset":0.375,"color":"#fff"},{"offset":0.475,"color":"#fff"},{"offset":0.475,"color":"#333"},{"offset":0.5,"color":"#333"},
{"offset":0.5,"color":"#fff"},{"offset":0.6,"color":"#fff"},{"offset":0.6,"color":"#333"},{"offset":0.625,"color":"#333"},
{"offset":0.625,"color":"#fff"},{"offset":0.725,"color":"#fff"},{"offset":0.725,"color":"#333"},{"offset":0.75,"color":"#333"},
{"offset":0.75,"color":"#fff"},{"offset":0.85,"color":"#fff"},{"offset":0.85,"color":"#333"},{"offset":0.875,"color":"#333"},
{"offset":0.875,"color":"#fff"},{"offset":0.975,"color":"#fff"},{"offset":0.975,"color":"#333"},{"offset":1,"color":"#333"}
]}}, "encoding": {"x2": {"datum": 1}}},
{"mark": {"type": "text", "font": "Open Sans", "fontSize": 24, "align": "left", "baseline": "middle", "dx": 8.7, "dy": 1.5, "color": "#231f20"}, "encoding": {"x": {"datum": 1, "type": "quantitative"}, "text": {"field": "treatment"}}}
]
}
],
"config": {
"view": {"stroke": null},
"font": "Open Sans",
"axis": {"domainColor": "#231f20", "domainWidth": 1.3, "tickColor": "#231f20", "tickWidth": 1.3, "labelColor": "#231f20", "labelFont": "Open Sans", "labelFontSize": 24, "titleColor": "#231f20", "titleFont": "Open Sans", "titleFontSize": 24, "titleFontWeight": "normal", "grid": false}
}
}
